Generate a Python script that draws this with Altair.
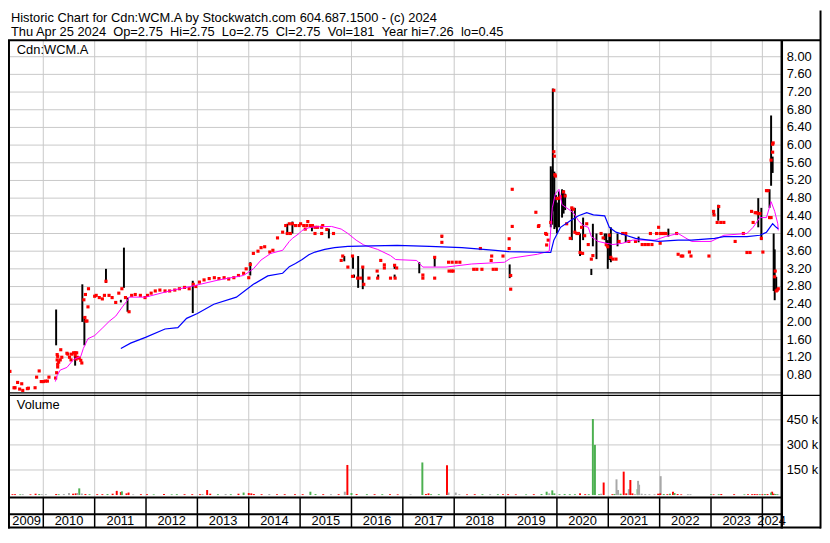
import altair as alt
import pandas as pd

# ---------------- layout helpers (reference is 830x543, page has 8px margin) -------------
W, H = 822, 524
SX, SY = W / 830.0, H / 543.0
def X(px): return px * SX
def Y(py): return py * SY
FONT = "Liberation Sans"
FS = 13
GRID = "#C8C8C8"
RED, GREEN, GREYV = "#FF0000", "#4CB050", "#A8A8A8"

# ---------------- data (decimal years, prices in $, volume in shares) -------------
title_1 = "Historic Chart for Cdn:WCM.A by Stockwatch.com 604.687.1500 - (c) 2024"
title_2 = "Thu Apr 25 2024  Op=2.75  Hi=2.75  Lo=2.75  Cl=2.75  Vol=181  Year hi=7.26  lo=0.45"
symbol = "Cdn:WCM.A"
vol_title = "Volume"

t_start, t_end = 2009.351, 2024.359
years = list(range(2009, 2025))
year_bounds = list(range(2010, 2025))

price_ticks = [0.80, 1.20, 1.60, 2.00, 2.40, 2.80, 3.20, 3.60, 4.00, 4.40, 4.80,
               5.20, 5.60, 6.00, 6.40, 6.80, 7.20, 7.60, 8.00]
vol_ticks = [150000, 300000, 450000]
vol_tick_labels = ["150 k", "300 k", "450 k"]

# closing prints (red dots)
dot_t = [2009.35, 2009.43, 2009.45, 2009.50, 2009.54, 2009.58, 2009.60, 2009.69, 2009.71, 2009.84,
         2009.87, 2009.92, 2009.96, 2010.00, 2010.04, 2010.08, 2010.11,
         2010.24, 2010.26, 2010.27, 2010.28, 2010.27, 2010.30, 2010.33, 2010.28, 2010.28, 2010.34,
         2010.36, 2010.46, 2010.48, 2010.51, 2010.54, 2010.55, 2010.59, 2010.62, 2010.65, 2010.62,
         2010.64, 2010.66, 2010.70, 2010.73, 2010.75, 2010.79, 2010.81, 2010.82, 2010.83, 2010.85,
         2010.87, 2010.88,
         2011.00, 2011.03, 2011.09, 2011.15, 2011.19, 2011.22, 2011.28, 2011.34, 2011.41, 2011.47,
         2011.53, 2011.60, 2011.67, 2011.72, 2011.79, 2011.89, 2011.98,
         2012.03, 2012.10, 2012.18, 2012.27, 2012.37, 2012.46, 2012.56, 2012.65, 2012.75, 2012.84,
         2012.92, 2012.97,
         2013.04, 2013.13, 2013.23, 2013.33, 2013.42, 2013.52, 2013.61, 2013.71, 2013.80, 2013.90,
         2013.95, 2014.00,
         2014.03, 2014.09, 2014.18, 2014.24, 2014.31, 2014.41, 2014.47, 2014.56, 2014.66, 2014.72,
         2014.79, 2014.75, 2014.81, 2014.85, 2014.91, 2014.98,
         2015.01, 2015.07, 2015.10, 2015.13, 2015.15, 2015.20, 2015.24, 2015.29, 2015.29, 2015.34,
         2015.42, 2015.42, 2015.44, 2015.52, 2015.65, 2015.83, 2015.80, 2015.93, 2016.02, 2016.02,
         2016.12, 2016.18, 2016.22, 2016.24, 2016.34, 2016.50, 2016.51, 2016.57, 2016.64, 2016.64,
         2016.76, 2016.84, 2016.85, 2016.88,
         2017.39, 2017.39, 2017.62, 2017.62, 2017.76, 2017.76, 2017.89, 2017.96, 2018.04, 2018.11,
         2017.90, 2017.95, 2017.98,
         2018.38, 2018.44, 2018.54, 2018.51, 2018.76, 2018.82, 2018.73, 2018.72, 2018.95,
         2019.07, 2019.07, 2019.10, 2019.10, 2019.13, 2019.13, 2019.59, 2019.64, 2019.80, 2019.80,
         2019.83, 2019.65, 2019.78, 2019.88, 2019.94, 2019.94, 2019.95, 2019.96, 2019.97,
         2020.00, 2020.04, 2020.07, 2020.13, 2020.16, 2020.19, 2020.26, 2020.29, 2020.32, 2020.35,
         2020.39, 2020.42, 2020.45, 2020.48, 2020.50, 2020.54, 2020.58, 2020.61, 2020.67, 2020.70,
         2020.86, 2020.90, 2020.96, 2020.99, 2021.02, 2021.05, 2021.09, 2021.15, 2021.21, 2021.28,
         2021.34, 2021.40, 2021.53, 2021.66, 2021.72, 2021.78, 2021.85, 2021.82, 2021.94, 2021.98,
         2022.01, 2022.04, 2022.07, 2022.10, 2022.12, 2022.01,
         2022.33, 2022.36, 2022.42, 2022.45, 2022.58, 2022.61, 2022.96,
         2023.05, 2023.06, 2023.12, 2023.19, 2023.25, 2023.15, 2023.47, 2023.63, 2023.70, 2023.76,
         2023.79, 2023.82, 2023.86, 2023.89, 2023.92, 2023.95, 2023.98, 2024.01,
         2024.08, 2024.11, 2024.14, 2024.17, 2024.17, 2024.20, 2024.20, 2024.21, 2024.24, 2024.25,
         2024.27, 2024.29, 2024.31]
dot_p = [0.88, 0.51, 0.51, 0.63, 0.48, 0.60, 0.45, 0.49, 0.50, 0.51,
         0.75, 0.89, 0.65, 0.65, 0.66, 0.66, 0.75,
         0.73, 0.85, 1.26, 1.22, 1.14, 1.09, 1.14, 1.04, 0.98, 1.37,
         1.20, 1.29, 1.27, 1.20, 1.14, 1.27, 1.30, 1.30, 1.30, 1.25,
         1.16, 1.20, 1.18, 1.13, 1.07, 2.50, 2.10, 2.62, 2.02, 2.02,
         2.34, 2.75,
         2.58, 2.60, 2.55, 2.52, 2.60, 2.92, 2.60, 2.55, 2.44, 2.65,
         2.75, 2.55, 2.23, 2.60, 2.62, 2.60, 2.55,
         2.60, 2.65, 2.70, 2.72, 2.70, 2.70, 2.72, 2.75, 2.78, 2.75,
         2.85, 2.80,
         2.90, 2.95, 2.98, 3.00, 2.98, 3.00, 2.97, 3.00, 3.05, 3.10,
         3.20, 3.00,
         3.30, 3.55, 3.60, 3.68, 3.70, 3.58, 3.62, 3.90, 4.03, 4.18,
         4.22, 4.00, 4.00, 4.22, 4.18, 4.18,
         4.22, 4.18, 4.10, 4.18, 4.27, 4.18, 4.18, 4.14, 4.00, 4.14,
         4.14, 4.00, 4.18, 4.09, 4.00, 3.49, 3.39, 3.24, 3.49, 3.03,
         2.99, 2.99, 3.24, 2.85, 2.99, 3.15, 2.99, 3.39, 3.29, 3.22,
         2.99, 3.28, 2.99, 3.22,
         3.06, 2.99, 3.46, 2.99, 3.80, 3.94, 3.35, 3.35, 3.35, 3.35,
         3.15, 3.15, 3.15,
         3.19, 3.19, 3.19, 3.66, 3.19, 3.19, 3.49, 3.39, 3.49,
         3.88, 3.66, 3.05, 2.74, 4.16, 5.00, 4.48, 4.16, 3.98, 3.74,
         3.85, 4.18, 4.00, 4.25, 7.24, 5.85, 5.75, 5.33, 5.30,
         4.79, 4.80, 4.83, 4.94, 4.85, 4.22, 3.89, 4.58, 4.55, 4.03,
         4.00, 4.00, 3.57, 4.14, 3.55, 3.95, 4.22, 3.75, 3.42, 3.50,
         4.00, 3.90, 3.75, 3.70, 3.96, 3.46, 3.42, 3.42, 3.82, 4.00,
         4.00, 3.82, 3.82, 3.75, 3.75, 3.75, 3.75, 4.00, 4.00, 4.14,
         4.00, 4.00, 4.00, 4.00, 4.00, 3.78,
         4.00, 3.53, 3.49, 3.49, 3.58, 3.49, 3.49,
         4.50, 4.42, 4.25, 4.25, 4.25, 4.61, 3.82, 4.00, 3.57, 3.57,
         4.50, 4.25, 4.47, 4.47, 4.45, 4.45, 3.89, 3.58,
         4.97, 4.97, 4.36, 4.36, 5.66, 6.02, 5.84, 6.05, 3.02, 3.15,
         2.70, 2.72, 2.75]

# daily high-low ranges (black bars)
bar_t = [2010.25, 2010.62, 2010.76, 2010.80,
         2011.22, 2011.51, 2011.57, 2011.64, 2012.91,
         2014.03, 2014.75, 2014.85, 2015.23, 2015.56,
         2015.86, 2016.03, 2016.05, 2016.13, 2016.22, 2016.52, 2016.84, 2016.84,
         2017.32, 2017.62, 2017.76, 2019.08,
         2019.88, 2019.91, 2019.92, 2019.95, 2019.98, 2020.00, 2020.04, 2020.10, 2020.13, 2020.16,
         2020.29, 2020.35, 2020.45, 2020.51, 2020.67, 2020.70, 2020.77, 2020.93, 2020.96, 2020.99,
         2021.02, 2021.05, 2021.18, 2021.34, 2021.59, 2022.17,
         2023.05, 2023.14, 2023.92, 2023.98,
         2024.14, 2024.17, 2024.20, 2024.22, 2024.24, 2024.27]
bar_lo = [1.47, 1.01, 2.00, 1.47,
          2.88, 2.44, 2.77, 2.23, 2.20,
          3.05, 4.00, 4.00, 4.05, 3.89,
          3.37, 3.20, 3.00, 2.77, 2.74, 3.00, 3.20, 3.00,
          3.10, 3.25, 3.90, 2.99,
          4.14, 4.20, 4.50, 4.10, 4.14, 4.00, 4.14, 4.36, 4.45, 4.53,
          3.85, 4.00, 3.49, 3.85, 3.06, 3.71, 3.42, 3.85, 3.71, 3.20,
          3.40, 3.35, 3.71, 3.80, 3.80, 3.93,
          4.42, 4.29, 4.14, 3.85,
          4.58, 5.08, 5.37, 2.70, 2.49, 2.70]
bar_hi = [2.28, 1.26, 2.85, 2.12,
          3.20, 2.50, 3.68, 2.55, 2.93,
          3.35, 4.22, 4.27, 4.18, 4.11,
          3.49, 3.49, 3.07, 3.49, 3.24, 3.07, 3.30, 3.07,
          3.35, 3.46, 3.96, 3.30,
          5.52, 5.45, 7.28, 5.40, 4.87, 4.70, 4.95, 5.00, 4.98, 4.90,
          4.60, 4.58, 4.00, 4.36, 3.20, 4.22, 4.00, 4.00, 4.00, 3.85,
          4.00, 4.14, 4.00, 4.00, 3.93, 4.11,
          4.50, 4.65, 4.80, 4.58,
          5.00, 6.67, 5.74, 4.00, 3.64, 3.02]

# short moving average (magenta)
ma_short_t = [2010.235, 2010.27, 2010.33, 2010.46, 2010.59, 2010.73, 2010.78, 2010.87, 2011.00,
              2011.16, 2011.29, 2011.41, 2011.54, 2011.64, 2011.67, 2011.99, 2012.46, 2012.94,
              2013.42, 2013.90, 2014.09, 2014.24, 2014.43, 2014.66, 2014.79, 2014.85, 2014.98,
              2015.04, 2015.17, 2015.29, 2015.61, 2015.80, 2015.93, 2016.09, 2016.24, 2016.51,
              2016.76, 2016.86, 2017.27, 2017.39, 2017.84, 2018.34, 2018.98, 2019.10, 2019.62,
              2019.85, 2019.91, 2019.97, 2020.04, 2020.10, 2020.19, 2020.32, 2020.42, 2020.51,
              2020.61, 2020.67, 2020.80, 2020.96, 2021.09, 2021.28, 2021.47, 2021.91, 2022.11,
              2022.36, 2022.62, 2023.00, 2023.25, 2023.70, 2023.82, 2023.95, 2024.08, 2024.17,
              2024.24, 2024.30, 2024.31]
ma_short_p = [0.65, 0.79, 0.91, 0.97, 1.15, 1.22, 1.40, 1.62, 1.69,
              1.87, 2.02, 2.13, 2.34, 2.49, 2.56, 2.56, 2.70, 2.82,
              2.95, 3.05, 3.20, 3.40, 3.55, 3.62, 3.82, 3.89, 4.00,
              4.07, 4.13, 4.15, 4.16, 4.10, 4.00, 3.85, 3.74, 3.64,
              3.50, 3.41, 3.39, 3.24, 3.24, 3.31, 3.35, 3.44, 3.53,
              3.60, 4.58, 4.90, 5.00, 4.65, 4.58, 4.47, 4.29, 4.18,
              4.14, 3.93, 3.82, 3.78, 3.75, 3.78, 3.85, 3.85, 3.93,
              4.00, 3.82, 3.82, 3.96, 4.00, 4.14, 4.36, 4.36, 4.72,
              4.50, 4.22, 4.07]

# long moving average (blue)
ma_long_t = [2011.51, 2011.70, 2011.99, 2012.37, 2012.62, 2012.79, 2013.00, 2013.32, 2013.76,
             2014.09, 2014.37, 2014.66, 2014.79, 2014.91, 2015.04, 2015.17, 2015.29, 2015.48,
             2015.67, 2015.93, 2016.89, 2017.52, 2018.15, 2018.80, 2019.05, 2019.88, 2019.94,
             2020.07, 2020.26, 2020.42, 2020.58, 2020.71, 2020.93, 2021.02, 2021.15, 2021.34,
             2021.53, 2021.79, 2021.98, 2022.36, 2022.62, 2023.07, 2023.25, 2023.70, 2023.95,
             2024.08, 2024.20, 2024.27, 2024.31]
ma_long_p = [1.40, 1.52, 1.65, 1.84, 1.87, 2.08, 2.19, 2.40, 2.56,
             2.85, 3.04, 3.10, 3.25, 3.32, 3.41, 3.52, 3.58, 3.64,
             3.68, 3.71, 3.73, 3.71, 3.68, 3.62, 3.59, 3.57, 3.85,
             4.14, 4.29, 4.40, 4.47, 4.42, 4.40, 4.14, 4.03, 3.96,
             3.89, 3.85, 3.82, 3.85, 3.85, 3.89, 3.93, 3.93, 3.96,
             4.03, 4.22, 4.14, 4.11]

# volume bars
vol_t = [2010.70, 2011.43, 2011.51, 2011.53, 2011.66, 2013.19, 2013.90, 2014.00, 2015.20, 2015.87,
         2015.92, 2016.00, 2017.38, 2017.50, 2017.86, 2017.89, 2018.03, 2019.80, 2019.91, 2020.45,
         2020.70, 2020.74, 2020.91, 2021.16, 2021.19, 2021.30, 2021.40, 2021.43, 2021.47, 2021.57,
         2021.58, 2021.60, 2022.02, 2022.01, 2022.26, 2022.29, 2022.55, 2024.19, 2024.17,
         2009.40, 2009.45, 2009.55, 2009.60, 2009.75, 2009.85, 2009.92, 2009.97, 2010.05,
         2010.25, 2010.30, 2010.40, 2010.50, 2010.58, 2010.63, 2010.67, 2010.75, 2010.82, 2010.90,
         2011.05, 2011.15, 2011.25, 2011.35, 2011.62, 2011.75, 2011.90,
         2012.02, 2012.15, 2012.35, 2012.50, 2012.60, 2012.75, 2012.90,
         2013.05, 2013.10, 2013.25, 2013.40, 2013.55, 2013.65, 2013.80,
         2014.05, 2014.10, 2014.25, 2014.40, 2014.55, 2014.70, 2014.90,
         2015.05, 2015.30, 2015.45, 2015.60, 2015.75,
         2016.10, 2016.30, 2016.45, 2016.60, 2016.75, 2016.90,
         2017.15, 2017.45, 2017.55, 2017.70,
         2018.10, 2018.25, 2018.40, 2018.55, 2018.70, 2018.85, 2018.95,
         2019.05, 2019.20, 2019.40, 2019.55, 2019.70, 2019.85, 2019.95,
         2020.05, 2020.15, 2020.25, 2020.35, 2020.55, 2020.62, 2020.82, 2020.86,
         2021.08, 2021.12, 2021.24, 2021.35, 2021.52, 2021.65, 2021.72, 2021.80, 2021.90, 2021.97,
         2022.08, 2022.15, 2022.20, 2022.35, 2022.42, 2022.60,
         2023.00, 2023.05, 2023.15, 2023.20, 2023.45, 2023.65, 2023.72, 2023.80, 2023.85, 2023.90,
         2023.95, 2024.00, 2024.05, 2024.10, 2024.22, 2024.25, 2024.29, 2024.31]
vol_v = [40000, 25000, 18000, 22000, 15000, 30000, 15000, 12000, 20000, 20000,
         180000, 12000, 195000, 10000, 178000, 15000, 15000, 20000, 28000, 10000,
         455000, 300000, 75000, 94000, 30000, 140000, 35000, 90000, 10000, 35000,
         85000, 62000, 113000, 10000, 20000, 12000, 5000, 20000, 15000,
         5000, 5000, 4000, 5000, 4000, 8000, 6000, 5000, 5000,
         6000, 5000, 6000, 12000, 8000, 10000, 12000, 9000, 6000, 5000,
         5000, 5000, 6000, 8000, 10000, 4000, 5000,
         5000, 4000, 6000, 4000, 5000, 5000, 5000,
         5000, 6000, 8000, 5000, 6000, 5000, 8000,
         10000, 6000, 5000, 6000, 5000, 5000, 5000,
         5000, 6000, 5000, 5000, 5000,
         6000, 5000, 5000, 5000, 5000, 4000,
         4000, 6000, 5000, 5000,
         5000, 4000, 5000, 5000, 5000, 5000, 5000,
         5000, 4000, 4000, 5000, 6000, 10000, 10000,
         5000, 6000, 5000, 5000, 5000, 5000, 5000, 8000,
         5000, 6000, 8000, 10000, 5000, 8000, 6000, 5000, 5000, 8000,
         6000, 5000, 8000, 6000, 4000, 5000,
         5000, 4000, 5000, 6000, 5000, 4000, 5000, 5000, 6000, 5000,
         5000, 5000, 6000, 6000, 8000, 6000, 5000, 3000]
vol_dir = ["up", "down", "down", "up", "down", "down", "up", "down", "up", "flat",
           "down", "up", "up", "down", "down", "flat", "flat", "up", "up", "down",
           "up", "up", "down", "flat", "flat", "down", "flat", "down", "down", "up",
           "flat", "flat", "flat", "down", "down", "up", "flat", "down", "up",
           "down", "down", "up", "flat", "down", "down", "up", "flat", "flat",
           "down", "up", "flat", "flat", "down", "down", "flat", "flat", "down", "up",
           "down", "down", "up", "down", "down", "flat", "down",
           "down", "up", "down", "up", "up", "down", "down",
           "down", "flat", "down", "up", "flat", "up", "down",
           "down", "down", "down", "flat", "down", "down", "down",
           "down", "up", "down", "flat", "down",
           "down", "up", "down", "up", "down", "down",
           "flat", "down", "up", "up",
           "flat", "down", "down", "up", "flat", "up", "down",
           "down", "down", "up", "down", "up", "flat", "up",
           "up", "up", "up", "up", "down", "up", "up", "flat",
           "down", "up", "up", "down", "flat", "flat", "flat", "flat", "flat", "down",
           "up", "down", "up", "down", "down", "flat",
           "up", "down", "up", "down", "down", "up", "down", "down", "down", "down",
           "up", "down", "up", "down", "down", "up", "up", "flat"]

# ---------------- scales (price/volume panels share one frame) -------------
def p_of_y(py):  # price at reference pixel row (8.00 at 48.3, 46.25 px per $1)
    return 8.0 - (py - 48.3) / 46.25
def v_of_y(py):  # volume at reference pixel row (0 at 507, 450k at 428.3)
    return (507.0 - py) / (507.0 - 428.3) * 450000

xs = alt.Scale(domain=[t_start, t_end], range=[X(2), X(788)], nice=False, zero=False)
ps = alt.Scale(domain=[p_of_y(400), p_of_y(31)], range=[Y(400), Y(31)], nice=False, zero=False)
vs = alt.Scale(domain=[v_of_y(509), v_of_y(403)], range=[Y(509), Y(403)], nice=False, zero=False)

def xenc(field="t"):
    return alt.X(f"{field}:Q", scale=xs, axis=None)

# ---------------- data frames -------------
df_dots = pd.DataFrame({"t": dot_t, "p": dot_p})
df_bars = pd.DataFrame({"t": bar_t, "lo": bar_lo, "hi": bar_hi})
df_mas = pd.DataFrame({"t": ma_short_t, "p": ma_short_p})
df_mal = pd.DataFrame({"t": ma_long_t, "p": ma_long_p})
df_vol = pd.DataFrame({"t": vol_t, "v": vol_v, "d": vol_dir})
df_vol["z"] = 0
df_pt = pd.DataFrame({"p": price_ticks, "lab": [f"{v:.2f}" for v in price_ticks]})
df_vt = pd.DataFrame({"v": vol_ticks, "lab": vol_tick_labels})
df_yb = pd.DataFrame({"t": year_bounds})
centers = [(max(y, t_start) + min(y + 1, t_end)) / 2 for y in years]
df_yl = pd.DataFrame({"t": centers, "lab": [str(y) for y in years]})

layers = []

# gridlines
layers.append(alt.Chart(df_pt).mark_rule(color=GRID, strokeWidth=1).encode(
    y=alt.Y("p:Q", scale=ps, axis=None), x=alt.value(X(2)), x2=alt.value(X(788))))
layers.append(alt.Chart(df_vt).mark_rule(color=GRID, strokeWidth=1).encode(
    y=alt.Y("v:Q", scale=vs, axis=None), x=alt.value(X(2)), x2=alt.value(X(788))))
layers.append(alt.Chart(df_yb).mark_rule(color=GRID, strokeWidth=1).encode(
    x=xenc(), y=alt.value(Y(31)), y2=alt.value(Y(509))))

# volume
layers.append(alt.Chart(df_vol).mark_rule(strokeWidth=2 * SX).encode(
    x=xenc(), y=alt.Y("v:Q", scale=vs, axis=None), y2="z:Q",
    color=alt.Color("d:N", scale=alt.Scale(domain=["up", "down", "flat"],
                                           range=[GREEN, RED, GREYV]), legend=None)))

# price ranges, closes, moving averages
layers.append(alt.Chart(df_bars).mark_rule(color="black", strokeWidth=2 * SX).encode(
    x=xenc(), y=alt.Y("lo:Q", scale=ps, axis=None), y2="hi:Q"))
layers.append(alt.Chart(df_dots).mark_square(color=RED, size=10, opacity=1, filled=True).encode(
    x=xenc(), y=alt.Y("p:Q", scale=ps, axis=None)))
layers.append(alt.Chart(df_mas).mark_line(color="#FF00FF", strokeWidth=1).encode(
    x=xenc(), y=alt.Y("p:Q", scale=ps, axis=None)))
layers.append(alt.Chart(df_mal).mark_line(color="#0000FF", strokeWidth=1.2).encode(
    x=xenc(), y=alt.Y("p:Q", scale=ps, axis=None)))

# axis labels on the right
layers.append(alt.Chart(df_pt).mark_text(align="left", baseline="middle", font=FONT,
                                         fontSize=FS, color="black").encode(
    y=alt.Y("p:Q", scale=ps, axis=None), x=alt.value(X(794)), text="lab:N"))
layers.append(alt.Chart(df_vt).mark_text(align="left", baseline="middle", font=FONT,
                                         fontSize=FS, color="black").encode(
    y=alt.Y("v:Q", scale=vs, axis=None), x=alt.value(X(794)), text="lab:N"))

# year labels and separators
layers.append(alt.Chart(df_yl).mark_text(align="center", baseline="middle", font=FONT,
                                         fontSize=FS, color="black").encode(
    x=xenc(), y=alt.value(Y(534.5)), text="lab:N"))
layers.append(alt.Chart(df_yb).mark_rule(color="black", strokeWidth=1.5).encode(
    x=xenc(), y=alt.value(Y(509)), y2=alt.value(Y(541))))

# frame lines
frame = [  # x1, x2, y1, y2, width
    (0, 829, 31, 31, 2), (1, 1, 31, 542, 2), (789, 789, 31, 542, 2.5), (828.5, 828.5, 0, 542, 2),
    (0, 789, 400, 400, 1.3), (0, 829, 402.6, 402.6, 1.3), (0, 789, 509.5, 509.5, 2),
    (0, 789, 527, 527, 2), (0, 829, 541, 541, 2),
]
for (x1, x2, y1, y2, sw) in frame:
    layers.append(alt.Chart(pd.DataFrame({"k": [0]})).mark_rule(color="black", strokeWidth=sw).encode(
        x=alt.value(X(x1)), x2=alt.value(X(x2)), y=alt.value(Y(y1)), y2=alt.value(Y(y2))))

# texts
texts = [(title_1, 3, 7.5), (title_2.replace("  ", " \u00a0"), 3, 22.5),
         (symbol, 9, 41), (vol_title, 9, 413)]
for (s, tx, ty) in texts:
    layers.append(alt.Chart(pd.DataFrame({"s": [s]})).mark_text(
        align="left", baseline="middle", font=FONT, fontSize=FS, color="black").encode(
        x=alt.value(X(tx)), y=alt.value(Y(ty)), text="s:N"))

chart = alt.layer(*layers).resolve_scale(y="independent", color="independent").properties(
    width=W, height=H, padding=0, background="white",
    autosize=alt.AutoSizeParams(type="none")
).configure_view(strokeWidth=0)

chart.save("out.html", embed_options={"renderer": "svg", "actions": False})
